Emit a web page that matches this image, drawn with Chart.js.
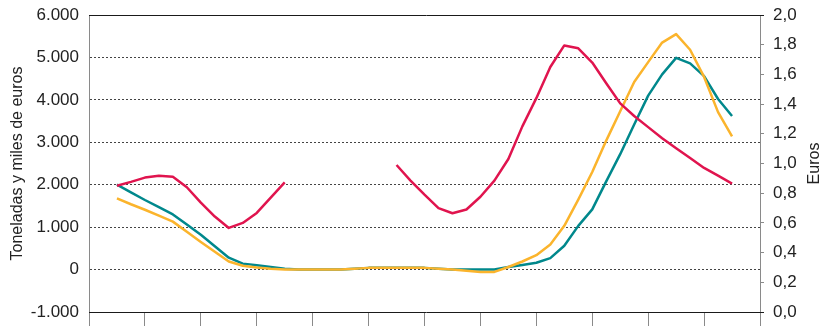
<!DOCTYPE html>
<html lang="es">
<head>
<meta charset="utf-8">
<script src="https://cdn.jsdelivr.net/npm/chart.js@4.4.1/dist/chart.umd.min.js"></script>
<style>
    html, body { margin: 0; padding: 0; background: #fff; }
    #wrap { width: 823px; height: 326px; position: relative; }
</style>
</head>
<body>
<div id="wrap"><canvas id="grafico"></canvas></div>
<script>
// eje x: 12 tramos, cuatro observaciones por tramo
const tramos = 12;
const inicio = 0.5;
const paso = 0.25;

// toneladas (eje izquierdo)
const toneladas = [2000, 1820, 1640, 1470, 1300, 1060, 820, 550, 280, 140, 100, 60, 20,
    0, 0, 0, 0, 20, 40, 40, 40, 40, 40, 20,
    0, 0, 0, 0,
    60, 110, 160, 270, 560, 1030, 1420, 2080, 2720, 3420, 4100, 4600, 4990, 4860, 4560, 4020, 3620];

// miles de euros (eje izquierdo)
const milesEuros = [1680, 1540, 1410, 1270, 1130, 890, 650, 420, 190, 90, 50, 20, 0,
    0, 0, 0, 0, 20, 40, 40, 40, 40, 40, 20,
    0, -30, -55, -55,
    60, 190, 340, 590, 1030, 1650, 2300, 3040, 3730, 4420, 4890, 5350, 5550, 5180, 4540, 3710, 3140];

// precio en euros (eje derecho), con hueco sin datos
const precioEuros = [0.85, 0.876, 0.905, 0.918, 0.91, 0.84, 0.737, 0.643, 0.566, 0.60, 0.667, 0.77, 0.873,
    null, null, null, null, null, null, null,
    0.99, 0.885, 0.79, 0.70, 0.665, 0.69, 0.776, 0.885, 1.03, 1.25, 1.44, 1.65, 1.795, 1.776, 1.68,
    1.54, 1.405, 1.32, 1.245, 1.17, 1.103, 1.037, 0.97, 0.918, 0.865];

const ticksIzq = { min: -1000, max: 6000, paso: 1000 };
const ticksDer = { min: 0, max: 2, paso: 0.2 };

const fuente = '"Liberation Sans", Arial, Helvetica, sans-serif';
const colorTexto = '#222';

// pasar una serie a puntos {x, y}
function aPuntos(serie) {
    return serie.map((v, i) => ({ x: inicio + i * paso, y: v }));
}

function formatoMiles(v) {
    const s = String(Math.abs(Math.round(v))).replace(/\B(?=(\d{3})+(?!\d))/g, '.');
    return (v < 0 ? '-' : '') + s;
}

// quitar el margen extra que Chart.js reserva para las etiquetas
function sinRelleno(s) {
    s.paddingTop = 0;
    s.paddingBottom = 0;
    s.paddingLeft = 0;
    s.paddingRight = 0;
}

// marco superior e inferior y título del eje derecho
const marco = {
    id: 'marco',
    afterDraw(chart) {
        const { ctx, chartArea: a } = chart;
        ctx.save();
        ctx.strokeStyle = '#1a1a1a';
        ctx.lineWidth = 1;
        ctx.beginPath();
        ctx.moveTo(a.left, a.top + 0.5);
        ctx.lineTo(a.right + 4, a.top + 0.5);
        ctx.moveTo(a.left, a.bottom + 0.5);
        ctx.lineTo(a.right + 4, a.bottom + 0.5);
        ctx.stroke();

        ctx.translate(815, (a.top + a.bottom) / 2);
        ctx.rotate(-Math.PI / 2);
        ctx.font = '16px ' + fuente;
        ctx.fillStyle = colorTexto;
        ctx.textAlign = 'center';
        ctx.textBaseline = 'middle';
        ctx.fillText('Euros', 0, 0);
        ctx.restore();
    }
};

new Chart(document.getElementById('grafico'), {
    type: 'line',
    data: {
        datasets: [{
            label: 'Euros',
            data: aPuntos(precioEuros),
            yAxisID: 'yDer',
            borderColor: '#e0144e',
            borderWidth: 2.5
        }, {
            label: 'Miles de euros',
            data: aPuntos(milesEuros),
            yAxisID: 'y',
            borderColor: '#fbb42c',
            borderWidth: 2.5
        }, {
            label: 'Toneladas',
            data: aPuntos(toneladas),
            yAxisID: 'y',
            borderColor: '#00888c',
            borderWidth: 2.5
        }]
    },
    options: {
        responsive: true,
        maintainAspectRatio: false,
        animation: false,
        spanGaps: false,
        elements: {
            point: { radius: 0 },
            line: { tension: 0, fill: false, borderJoinStyle: 'round' }
        },
        layout: { padding: { top: 15, left: 0, right: 0, bottom: 0 } },
        plugins: {
            legend: { display: false },
            tooltip: { enabled: false }
        },
        scales: {
            x: {
                type: 'linear',
                min: 0,
                max: tramos,
                ticks: { display: false, stepSize: 1 },
                grid: {
                    drawOnChartArea: false,
                    drawTicks: true,
                    tickLength: 14,
                    tickColor: '#8a8a8a',
                    tickWidth: 1
                },
                border: { display: false },
                afterFit(s) { s.height = 14; sinRelleno(s); }
            },
            y: {
                position: 'left',
                min: ticksIzq.min,
                max: ticksIzq.max,
                ticks: {
                    stepSize: ticksIzq.paso,
                    padding: 10,
                    color: colorTexto,
                    font: { family: fuente, size: 17 },
                    callback: v => formatoMiles(v)
                },
                grid: {
                    drawTicks: false,
                    color: c => (c.tick.value >= 0 && c.tick.value <= 5000) ? '#444' : 'rgba(0,0,0,0)',
                    lineWidth: 1
                },
                border: { display: true, color: '#8a8a8a', width: 1, dash: [2, 2] },
                title: {
                    display: true,
                    text: 'Toneladas y miles de euros',
                    color: colorTexto,
                    font: { family: fuente, size: 16 },
                    padding: { top: 8, bottom: 0 }
                },
                afterFit(s) { s.width = 89; sinRelleno(s); }
            },
            yDer: {
                position: 'right',
                min: ticksDer.min,
                max: ticksDer.max,
                ticks: {
                    stepSize: ticksDer.paso,
                    padding: 9,
                    color: colorTexto,
                    font: { family: fuente, size: 17 },
                    callback: v => v.toFixed(1).replace('.', ',')
                },
                grid: {
                    drawOnChartArea: false,
                    drawTicks: true,
                    tickLength: 4,
                    tickColor: '#8a8a8a'
                },
                border: { display: true, color: '#8a8a8a', width: 1 },
                afterFit(s) { s.width = 63; sinRelleno(s); }
            }
        }
    },
    plugins: [marco]
});
</script>
</body>
</html>
